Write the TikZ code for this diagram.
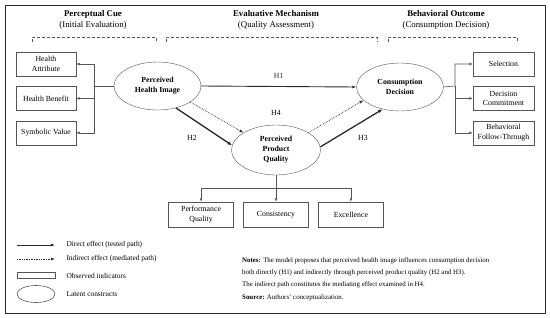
\documentclass[tikz,border=0pt]{standalone}
\usepackage{fontspec}
\setmainfont{Liberation Serif}
\usepackage{xcolor}
\definecolor{inkgray}{HTML}{2B2B2B}
\definecolor{boxgray}{HTML}{555555}
\usepackage{tikz}
\usetikzlibrary{arrows.meta,positioning,shapes.geometric}
\tikzset{
  latentnode/.style={draw=boxgray,ellipse,minimum width=87pt,minimum height=48pt,inner sep=0pt,align=center,font=\fontsize{7.8}{10}\selectfont\bfseries},
  indicatorbox/.style={draw=boxgray,minimum width=60pt,minimum height=24pt,inner sep=1pt,align=center,font=\fontsize{7.8}{9.7}\selectfont},
  headtext/.style={align=center,font=\fontsize{8.8}{11}\selectfont},
  directarrow/.style={-{Latex[length=4pt,width=3pt]},inkgray,line width=0.9pt},
  strongarrow/.style={-{Latex[length=4.5pt,width=3.5pt]},inkgray,line width=1.3pt},
  mediatedarrow/.style={-{Latex[length=4pt,width=3pt]},inkgray,densely dotted,line width=0.7pt},
  treearrow/.style={-{Latex[length=3.5pt,width=2.8pt]},boxgray,line width=0.6pt},
  groupbrace/.style={boxgray,densely dashed,line width=0.5pt},
  pathlabel/.style={font=\fontsize{7.8}{9}\selectfont},
  legendtext/.style={anchor=west,font=\fontsize{7.4}{9}\selectfont}
}
\begin{document}
\begin{tikzpicture}[x=1pt,y=-1pt,node distance=10pt]
\useasboundingbox (0,0) rectangle (550,317);
\draw[inkgray,line width=0.9pt] (5,5) rectangle (545,313);
% column headings
\node[headtext] (hcue) at (93,20) {\textbf{Perceptual Cue}\\(Initial Evaluation)};
\node[headtext] (hmech) at (276,20) {\textbf{Evaluative Mechanism}\\(Quality Assessment)};
\node[headtext] (hout) at (446,20) {\textbf{Behavioral Outcome}\\(Consumption Decision)};
\draw[groupbrace] (32,42) -- (32,37) -- (156,37) -- (156,42);
\draw[groupbrace] (166,42) -- (166,37) -- (377,37) -- (377,42);
\draw[groupbrace] (388,42) -- (388,37) -- (517,37) -- (517,42);
% latent constructs
\node[latentnode] (phi) at (157.5,86) {Perceived\\Health Image};
\node[latentnode] (cd) at (400,87) {Consumption\\Decision};
\node[latentnode,minimum width=89pt,minimum height=50pt] (ppq) at (276,150) {Perceived\\Product\\Quality};
% indicators
\node[indicatorbox] (ha) at (46,64) {Health\\Attribute};
\node[indicatorbox,below=of ha] (hb) {Health Benefit};
\node[indicatorbox,below=of hb] (sv) {Symbolic Value};
\node[indicatorbox,minimum width=61pt] (sel) at (503.5,64) {Selection};
\node[indicatorbox,minimum width=61pt,below=of sel] (dc) {Decision\\Commitment};
\node[indicatorbox,minimum width=61pt,below=of dc] (bft) {Behavioral\\Follow-Through};
\node[indicatorbox,minimum width=65pt,minimum height=25pt] (cons) at (276,214.5) {Consistency};
\node[indicatorbox,minimum width=65pt,minimum height=25pt,left=9.5pt of cons] (pq) {Performance\\Quality};
\node[indicatorbox,minimum width=65pt,minimum height=25pt,right=9.5pt of cons] (exc) {Excellence};
% indicator links
\coordinate (jl) at (94,86);
\coordinate (jr) at (455,86);
\coordinate (jb) at (276,188);
\draw[treearrow] (phi.west) -- (jl) |- (ha.east);
\draw[treearrow] (jl) |- (hb.east);
\draw[treearrow] (jl) |- (sv.east);
\draw[treearrow] (cd.east) -- (jr) |- (sel.west);
\draw[treearrow] (jr) |- (dc.west);
\draw[treearrow] (jr) |- (bft.west);
\draw[treearrow] (ppq.south) -- (cons.north);
\draw[treearrow] (jb) -| (pq.north);
\draw[treearrow] (jb) -| (exc.north);
% hypothesised paths
\draw[directarrow] (phi.east) -- node[pathlabel,above=4pt] (h1) {H1} (cd.west);
\draw[strongarrow] (phi.-50) -- (ppq.174);
\draw[mediatedarrow] (phi.-26) -- (ppq.152);
\draw[mediatedarrow] (ppq.28) -- (cd.-160);
\draw[strongarrow] (ppq.4) -- (cd.-128);
\node[pathlabel] (h4) at (276,113) {H4};
\node[pathlabel] (h2) at (192,138) {H2};
\node[pathlabel] (h3) at (363,138) {H3};
% legend
\coordinate (ls1) at (17,245); \coordinate (le1) at (55,245);
\coordinate (ls2) at (17,259); \coordinate (le2) at (55,259);
\draw[directarrow] (ls1) -- (le1);
\draw[mediatedarrow] (ls2) -- (le2);
\draw[boxgray,line width=0.6pt] (17,272.5) rectangle (55,278.5);
\draw[boxgray,line width=0.6pt] (36,294) ellipse (19 and 8.5);
\node[legendtext] (lg1) at (63,245) {Direct effect (tested path)};
\node[legendtext] (lg2) at (63,259) {Indirect effect (mediated path)};
\node[legendtext] (lg3) at (63,276) {Observed indicators};
\node[legendtext] (lg4) at (63,294) {Latent constructs};
% notes
\node[anchor=north west,align=left,inner sep=0pt,font=\fontsize{6.9}{12.2}\selectfont] (notes) at (242,257.5)
  {\textbf{Notes:} The model proposes that perceived health image influences consumption decision\\
   both directly (H1) and indirectly through perceived product quality (H2 and H3).\\
   The indirect path constitutes the mediating effect examined in H4.\\
   \textbf{Source:} Authors' conceptualization.};
\end{tikzpicture}
\end{document}
